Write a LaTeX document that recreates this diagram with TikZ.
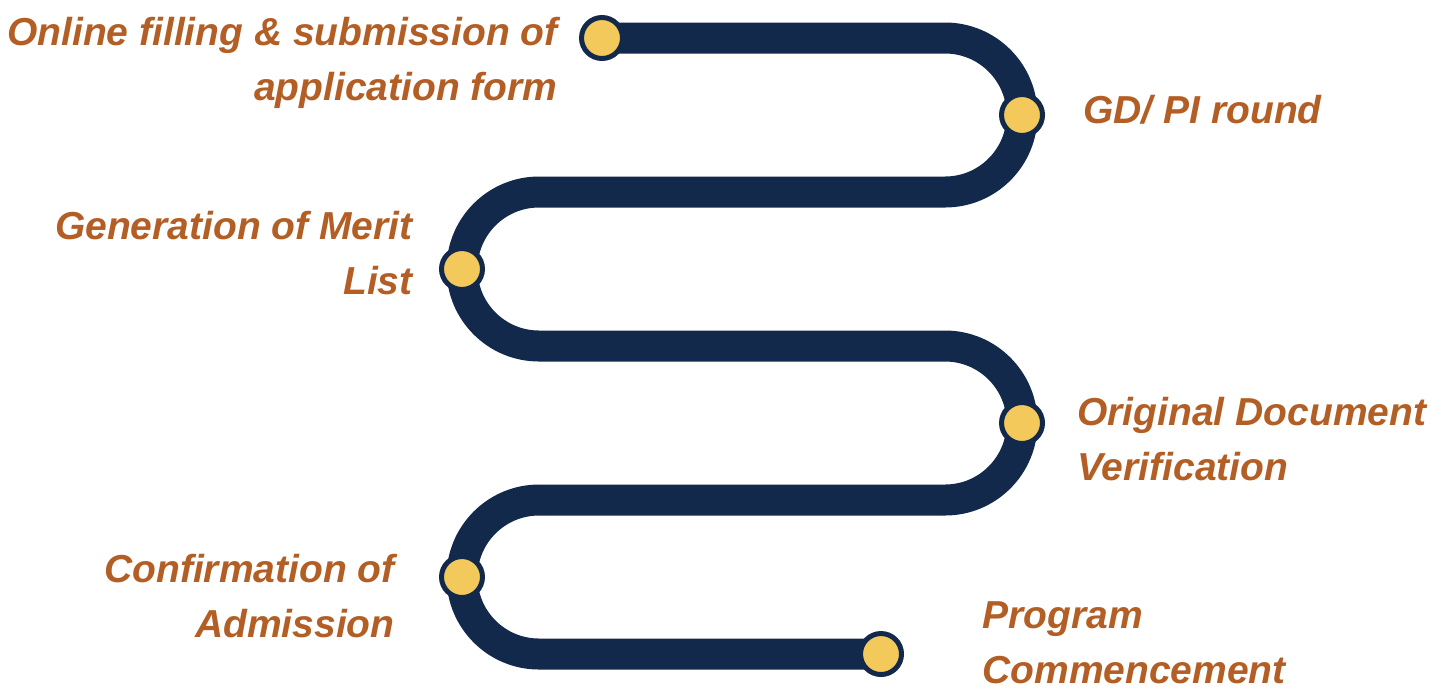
\documentclass[tikz,border=0pt]{standalone}
\usepackage{fontspec}
\setmainfont{Liberation Sans}
\usetikzlibrary{backgrounds}
\definecolor{road}{HTML}{13294B}
\definecolor{dotfill}{HTML}{F3C95C}
\definecolor{labelcol}{HTML}{B35E24}
\begin{document}
\begin{tikzpicture}[x=0.5pt,y=-0.5pt,
  dot/.style={shape=circle,draw=road,fill=dotfill,line width=2.5pt,inner sep=0pt,minimum size=20.5pt},
  lbl/.style={text=labelcol,font=\fontsize{19.5}{27.5}\selectfont\bfseries\itshape,inner sep=0pt},
  roadline/.style={draw=road,line width=15.5pt}]
  \useasboundingbox (0,0) rectangle (1443,698);

  \node[dot] (d1) at (602,38) {};
  \node[dot] (d2) at (1022,115) {};
  \node[dot] (d3) at (462,269) {};
  \node[dot] (d4) at (1022,423) {};
  \node[dot] (d5) at (462,577) {};
  \node[dot] (d6) at (881,654) {};

  \node[lbl,align=right,anchor=base east] (l1) at (558,100) {Online filling \& submission of\\application form};
  \node[lbl,align=left,anchor=base west] (l2) at (1083,123) {GD/ PI round};
  \node[lbl,align=right,anchor=base east] (l3) at (413,294) {Generation of Merit\\List};
  \node[lbl,align=left,anchor=base west] (l4) at (1077,480) {Original Document\\Verification};
  \node[lbl,align=right,anchor=base east] (l5) at (395,637) {Confirmation of\\Admission};
  \node[lbl,align=left,anchor=base west] (l6) at (982,683) {Program\\Commencement};

  % winding road behind the dots
  \begin{scope}[on background layer]
    \draw[roadline] (d1.center) -- (945,38) arc[start angle=-90,end angle=0,radius=77] -- (d2.center)
      arc[start angle=0,end angle=90,radius=77] -- (539,192)
      arc[start angle=-90,end angle=-180,radius=77] -- (d3.center)
      arc[start angle=-180,end angle=-270,radius=77] -- (945,346)
      arc[start angle=-90,end angle=0,radius=77] -- (d4.center)
      arc[start angle=0,end angle=90,radius=77] -- (539,500)
      arc[start angle=-90,end angle=-180,radius=77] -- (d5.center)
      arc[start angle=-180,end angle=-270,radius=77] -- (d6.center);
  \end{scope}

\end{tikzpicture}
\end{document}
